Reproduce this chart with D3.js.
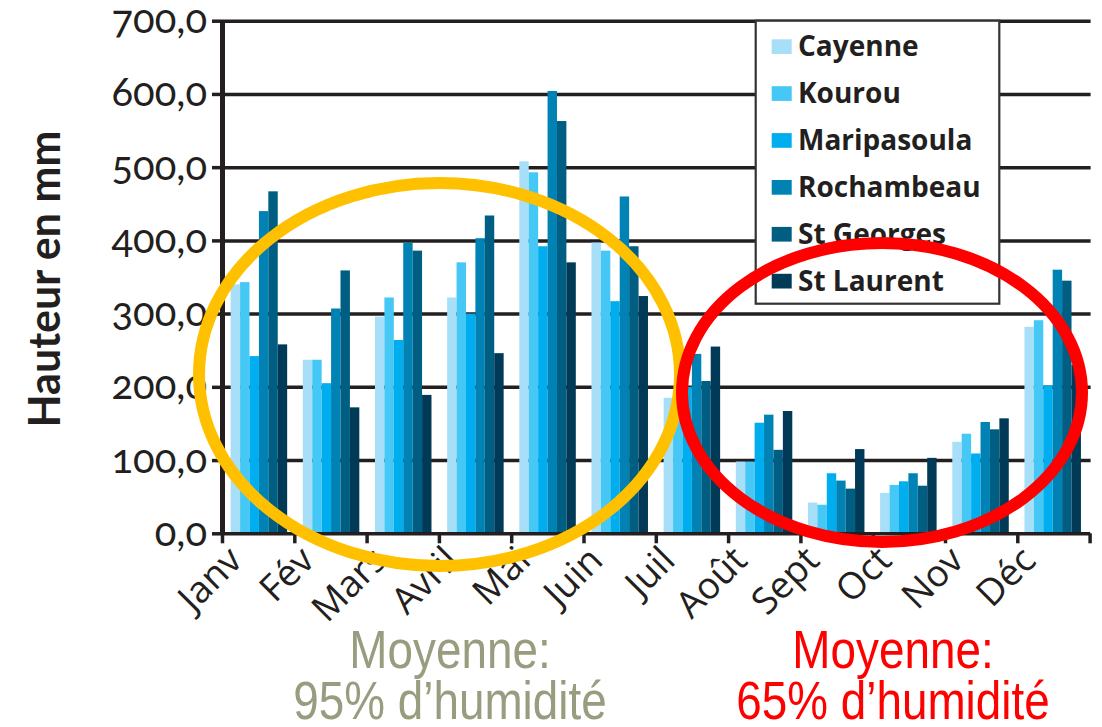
<!DOCTYPE html>
<html>
<head>
<meta charset="utf-8">
<script src="https://cdn.jsdelivr.net/npm/d3@7"></script>
<style>
  body { margin: 0; background: #fff; }
  svg { display: block; }
  .tickLabel { font-family: Lato, "Open Sans", sans-serif; font-feature-settings: "onum"; font-variant-numeric: oldstyle-nums; }
</style>
</head>
<body>
<div id="graphContainer"></div>
<script>
const months = ["Janv", "Fév", "Mars", "Avril", "Mai", "Juin", "Juil", "Août", "Sept", "Oct", "Nov", "Déc"];
const stations = ["Cayenne", "Kourou", "Maripasoula", "Rochambeau", "St Georges", "St Laurent"];

// rainfall in mm, one array per station, Janv -> Déc
const cayenne = [340, 237, 296, 322, 508, 397, 185, 98, 42, 55, 125, 282];
const kourou = [343, 237, 322, 370, 493, 386, 180, 98, 39, 66, 136, 291];
const maripasoula = [242, 205, 264, 300, 392, 317, 200, 151, 82, 71, 109, 202];
const rochambeau = [440, 307, 397, 403, 604, 460, 245, 162, 72, 82, 152, 360];
const stGeorges = [467, 359, 386, 434, 563, 392, 208, 114, 61, 65, 142, 345];
const stLaurent = [258, 172, 189, 246, 370, 324, 255, 167, 115, 103, 157, 230];

const yTicks = [0, 100, 200, 300, 400, 500, 600, 700];

const series = [cayenne, kourou, maripasoula, rochambeau, stGeorges, stLaurent];
const colors = ["#a8dff8", "#45c8f5", "#00aeef", "#0083b4", "#005e82", "#003a57"];

const ink = "#231f20";

drawChart = () => {
  const W = 1102, H = 727;
  const margin = { top: 20.7, right: 12.4, bottom: 193.7, left: 222 };
  const width = W - margin.left - margin.right,
    height = H - margin.top - margin.bottom;

  const svg = d3
    .select("#graphContainer")
    .append("svg")
    .attr("width", W)
    .attr("height", H);

  const rows = months.map((m, i) => ({
    month: m,
    values: stations.map((s, j) => ({ station: s, value: series[j][i] })),
  }));

  const x0 = d3
    .scaleBand()
    .domain(months)
    .range([margin.left, margin.left + width])
    .paddingInner(0.217)
    .paddingOuter(0.12);
  const x1 = d3.scaleBand().domain(stations).range([0, x0.bandwidth()]);
  const y = d3
    .scaleLinear()
    .domain([0, 700])
    .range([margin.top + height, margin.top]);

  // horizontal grid lines behind the bars
  svg
    .append("g")
    .attr("transform", `translate(${margin.left},0)`)
    .call(d3.axisRight(y).tickValues(yTicks.slice(1)).tickSize(width + 1).tickFormat(""))
    .call((g) => g.select(".domain").remove())
    .call((g) => g.selectAll(".tick line").attr("stroke", ink).attr("stroke-width", 3.5));

  svg
    .append("g")
    .selectAll("g")
    .data(rows)
    .join("g")
    .attr("transform", (d) => `translate(${x0(d.month)},0)`)
    .selectAll("rect")
    .data((d) => d.values)
    .join("rect")
    .attr("x", (d) => x1(d.station))
    .attr("y", (d) => y(d.value))
    .attr("width", x1.bandwidth())
    .attr("height", (d) => y(0) - y(d.value))
    .attr("fill", (d, i) => colors[i]);

  // y axis with french decimal comma
  svg
    .append("g")
    .attr("transform", `translate(${margin.left},0)`)
    .call(
      d3
        .axisLeft(y)
        .tickValues(yTicks)
        .tickSize(10)
        .tickSizeOuter(0)
        .tickPadding(5)
        .tickFormat((d) => d3.format(".1f")(d).replace(".", ","))
    )
    .call((g) => g.select(".domain").attr("stroke", ink).attr("stroke-width", 5))
    .call((g) => g.selectAll(".tick line").attr("stroke", ink).attr("stroke-width", 3.5))
    .call((g) =>
      g
        .selectAll(".tick text")
        .attr("class", "tickLabel")
        .attr("fill", ink)
        .attr("font-size", 40)
        .attr("dy", "0.3em")
    );

  // x axis: ticks sit between the months
  const xEdge = d3.scaleLinear().domain([0, months.length]).range([margin.left, margin.left + width]);
  svg
    .append("g")
    .attr("transform", `translate(0,${y(0)})`)
    .call(d3.axisBottom(xEdge).tickValues(d3.range(months.length + 1)).tickSize(10).tickSizeOuter(0).tickFormat(""))
    .call((g) => g.select(".domain").attr("stroke", ink).attr("stroke-width", 3.5))
    .call((g) => g.selectAll(".tick line").attr("stroke", ink).attr("stroke-width", 3.5));

  svg
    .append("g")
    .selectAll("text")
    .data(months)
    .join("text")
    .attr("transform", (d) => `translate(${x0(d) + x0.bandwidth() / 2 - 24},${y(0) + 20}) rotate(-45)`)
    .attr("text-anchor", "end")
    .attr("dy", "0.35em")
    .attr("font-family", "Open Sans, sans-serif")
    .attr("font-size", 37)
    .attr("fill", ink)
    .text((d) => d);

  svg
    .append("text")
    .attr("transform", `translate(60,279) rotate(-90)`)
    .attr("text-anchor", "middle")
    .attr("font-family", "Lato, sans-serif")
    .attr("font-weight", 700)
    .attr("font-size", 43)
    .attr("fill", ink)
    .text("Hauteur en mm");

  drawLegend(svg);
  drawNotes(svg);
};

drawLegend = (svg) => {
  const legend = svg.append("g");
  legend
    .append("rect")
    .attr("x", 755.7)
    .attr("y", 20.7)
    .attr("width", 243.6)
    .attr("height", 283)
    .attr("fill", "white")
    .attr("stroke", "#333")
    .attr("stroke-width", 2.2);

  const keys = legend.selectAll("g").data(stations).join("g")
    .attr("transform", (d, i) => `translate(0,${i * 46.9})`);

  keys
    .append("rect")
    .attr("x", 771.7)
    .attr("y", 39.3)
    .attr("width", 20)
    .attr("height", 14.7)
    .attr("fill", (d, i) => colors[i]);

  keys
    .append("text")
    .attr("x", 798)
    .attr("y", 56)
    .attr("font-family", "Open Sans, sans-serif")
    .attr("font-weight", 700)
    .attr("font-size", 28)
    .attr("fill", ink)
    .text((d) => d);
};

drawNotes = (svg) => {
  // the two humidity circles
  svg
    .append("ellipse")
    .attr("cx", 439.5)
    .attr("cy", 374.5)
    .attr("rx", 240.5)
    .attr("ry", 191.5)
    .attr("fill", "none")
    .attr("stroke", "#ffc000")
    .attr("stroke-width", 12);
  svg
    .append("ellipse")
    .attr("cx", 882)
    .attr("cy", 392.5)
    .attr("rx", 200)
    .attr("ry", 149.5)
    .attr("fill", "none")
    .attr("stroke", "#ff0000")
    .attr("stroke-width", 12);

  const notes = [
    { x: 450, color: "#999c7e", lines: ["Moyenne:", "95% d’humidité"] },
    { x: 893, color: "#ff0000", lines: ["Moyenne:", "65% d’humidité"] },
  ];
  // narrow type: plain Liberation Sans squeezed horizontally
  notes.forEach((n) => {
    svg
      .append("g")
      .selectAll("text")
      .data(n.lines)
      .join("text")
      .attr("transform", (d, i) => `translate(${n.x},${668 + i * 51}) scale(0.865,1)`)
      .attr("text-anchor", "middle")
      .attr("font-family", "Liberation Sans, Arial, sans-serif")
      .attr("font-size", 53)
      .attr("fill", n.color)
      .text((d) => d);
  });
};

window.addEventListener("DOMContentLoaded", (evt) => {
  drawChart();
});
</script>
</body>
</html>
